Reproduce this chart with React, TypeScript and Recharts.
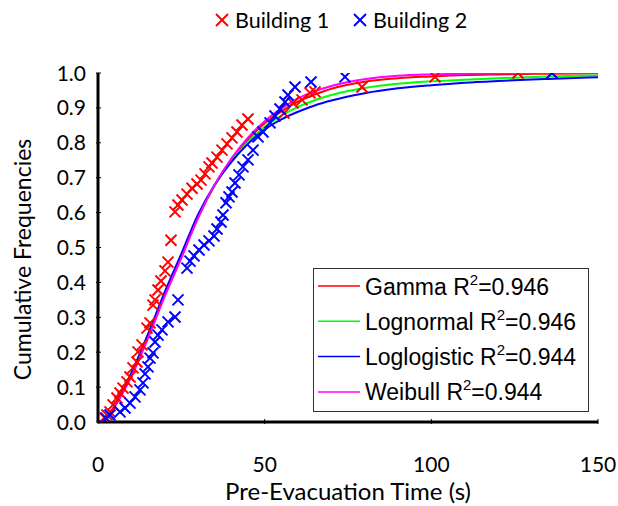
import React from 'react';
import { ComposedChart, Line, Scatter, XAxis, YAxis, Legend } from 'recharts';

// Building 1 observations (pre-evacuation time s, cumulative frequency)
const b1Time = [2.1, 2.7, 3.6, 4.5, 5.7, 6.6, 7.5, 8.7, 9.6, 10.5, 11.7, 12.0, 13.2, 14.7, 15.6, 16.5, 17.1, 18.0, 18.9, 20.1, 21.0, 21.9, 23.1, 24.0, 25.2, 26.7, 28.2, 29.7, 30.9, 32.1, 33.3, 34.2, 35.7, 37.2, 38.7, 40.2, 41.7, 43.2, 45.0, 55.8, 58.5, 61.2, 63.6, 65.1, 79.2, 101.1, 126.0];
const b1Freq = [0.011, 0.02, 0.029, 0.049, 0.069, 0.083, 0.097, 0.115, 0.129, 0.155, 0.172, 0.201, 0.221, 0.269, 0.284, 0.335, 0.35, 0.378, 0.404, 0.433, 0.458, 0.521, 0.602, 0.622, 0.636, 0.653, 0.67, 0.682, 0.693, 0.711, 0.731, 0.742, 0.759, 0.779, 0.797, 0.814, 0.831, 0.851, 0.868, 0.885, 0.914, 0.923, 0.943, 0.946, 0.96, 0.989, 1.0];

// Building 2 observations
const b2Time = [2.4, 3.6, 6.6, 8.1, 9.6, 11.1, 12.6, 13.5, 14.1, 15.0, 15.6, 16.5, 17.1, 18.0, 19.2, 21.0, 23.1, 24.0, 26.7, 27.6, 28.8, 30.3, 31.8, 33.3, 34.8, 35.7, 36.9, 37.5, 38.4, 39.3, 40.2, 41.1, 42.3, 43.5, 45.0, 46.5, 48.0, 49.5, 51.6, 53.1, 54.6, 56.1, 57.0, 59.1, 63.9, 74.1, 136.2];
const b2Freq = [0.011, 0.02, 0.029, 0.04, 0.054, 0.072, 0.092, 0.112, 0.138, 0.158, 0.183, 0.198, 0.229, 0.249, 0.264, 0.287, 0.301, 0.35, 0.441, 0.461, 0.476, 0.493, 0.507, 0.519, 0.533, 0.553, 0.573, 0.593, 0.628, 0.645, 0.659, 0.685, 0.708, 0.731, 0.751, 0.779, 0.817, 0.831, 0.857, 0.877, 0.897, 0.917, 0.937, 0.96, 0.974, 0.989, 1.0];

// Fitted curves
const fitTime = [0, 2, 5, 10, 15, 20, 25, 30, 35, 40, 45, 50, 55, 60, 65, 70, 80, 90, 100, 110, 120, 135, 150];
const gammaFit = [0, 0.008, 0.045, 0.135, 0.245, 0.362, 0.472, 0.585, 0.678, 0.752, 0.81, 0.856, 0.89, 0.918, 0.938, 0.955, 0.975, 0.985, 0.99, 0.994, 0.996, 0.998, 0.999];
const lognormalFit = [0, 0.005, 0.045, 0.14, 0.25, 0.368, 0.478, 0.59, 0.678, 0.748, 0.802, 0.846, 0.878, 0.903, 0.922, 0.937, 0.957, 0.969, 0.976, 0.981, 0.985, 0.99, 0.993];
const loglogisticFit = [0, 0.005, 0.045, 0.14, 0.252, 0.372, 0.482, 0.594, 0.68, 0.745, 0.797, 0.838, 0.867, 0.889, 0.907, 0.921, 0.942, 0.956, 0.965, 0.972, 0.977, 0.983, 0.988];
const weibullFit = [0, 0.01, 0.045, 0.13, 0.24, 0.36, 0.47, 0.585, 0.68, 0.755, 0.815, 0.862, 0.898, 0.927, 0.948, 0.963, 0.982, 0.992, 0.996, 0.998, 0.999, 1.0, 1.0];

const seriesNames = ['Building 1', 'Building 2'];
const fitNames = ['Gamma', 'Lognormal', 'Loglogistic', 'Weibull'];
const fitR2 = ['0.946', '0.946', '0.944', '0.944'];
const xTicks = [0, 50, 100, 150];
const yTicks = [0, 0.1, 0.2, 0.3, 0.4, 0.5, 0.6, 0.7, 0.8, 0.9, 1.0];
const xTitle = 'Pre-Evacuation Time (s)';
const yTitle = 'Cumulative Frequencies';

const RED = '#FF0000';
const BLUE = '#0000FF';
const GREEN = '#00FF00';
const MAGENTA = '#FF00FF';
const fitColors = [RED, GREEN, BLUE, MAGENTA];
const FONT = 'Lato, "Open Sans", sans-serif';

const b1 = b1Time.map((x, i) => ({ x, y: b1Freq[i] }));
const b2 = b2Time.map((x, i) => ({ x, y: b2Freq[i] }));
const mk = (arr: number[]) => fitTime.map((x, i) => ({ x, y: arr[i] }));
const fits = [mk(gammaFit), mk(lognormalFit), mk(loglogisticFit), mk(weibullFit)];

const Cross = (color: string) => (props: any) => {
  const { cx, cy } = props;
  const s = 5.5;
  return (
    <g>
      <line x1={cx - s} y1={cy - s} x2={cx + s} y2={cy + s} stroke={color} strokeWidth={2} />
      <line x1={cx - s} y1={cy + s} x2={cx + s} y2={cy - s} stroke={color} strokeWidth={2} />
    </g>
  );
};

const XTick = (props: any) => {
  const { x, y, payload } = props;
  return (
    <g>
      <line x1={x} x2={x} y1={y - 5} y2={y} stroke="#000" strokeWidth={1} />
      <text x={x} y={y + 48} textAnchor="middle" fontFamily={FONT} fontSize={21} fill="#000">
        {payload.value}
      </text>
    </g>
  );
};

const YTick = (props: any) => {
  const { x, y, payload } = props;
  return (
    <g>
      <line x1={x} x2={x + 5} y1={y} y2={y} stroke="#000" strokeWidth={1} />
      <text x={x - 10} y={y + 7.5} textAnchor="end" fontFamily={FONT} fontSize={21} fill="#000">
        {Number(payload.value).toFixed(1)}
      </text>
    </g>
  );
};

const LegendContent = () => (
  <svg width={618} height={506} style={{ position: 'absolute', left: 0, top: 0 }}>
    {[RED, BLUE].map((c, i) => {
      const x0 = i === 0 ? 222 : 360;
      return (
        <g key={i}>
          <line x1={x0 - 6} y1={14} x2={x0 + 6} y2={26} stroke={c} strokeWidth={2} />
          <line x1={x0 - 6} y1={26} x2={x0 + 6} y2={14} stroke={c} strokeWidth={2} />
          <text x={x0 + 13} y={27.5} fontFamily={FONT} fontSize={21.5} fill="#000">
            {seriesNames[i]}
          </text>
        </g>
      );
    })}
    <rect x={313.5} y={268.5} width={275} height={143} fill="#fff" stroke="#333" strokeWidth={1} />
    {fitNames.map((n, i) => {
      const yy = 286 + i * 35.3;
      return (
        <g key={n}>
          <line x1={318} x2={360} y1={yy} y2={yy} stroke={fitColors[i]} strokeWidth={1.5} />
          <text x={365} y={yy + 8.5} fontFamily='"Liberation Sans", Arial, sans-serif' fontSize={23} fill="#000">
            {n} R
            <tspan fontSize={15} dy={-10}>2</tspan>
            <tspan dy={10}>={fitR2[i]}</tspan>
          </text>
        </g>
      );
    })}
  </svg>
);

export default function App() {
  return (
    <div style={{ position: 'absolute', left: 0, top: 0, background: '#fff' }}>
      <ComposedChart width={618} height={506} margin={{ top: 73, right: 20, bottom: 0, left: 0 }}>
        <XAxis
          dataKey="x"
          type="number"
          domain={[0, 150]}
          ticks={xTicks}
          allowDataOverflow
          height={84}
          tickSize={0}
          tickLine={false}
          axisLine={{ stroke: '#000', strokeWidth: 3 }}
          tick={<XTick />}
          label={{ value: xTitle, position: 'insideBottom', offset: 6, fontFamily: FONT, fontSize: 24, fill: '#000' }}
        />
        <YAxis
          type="number"
          dataKey="y"
          domain={[0, 1]}
          ticks={yTicks}
          allowDataOverflow
          width={98}
          tickSize={0}
          tickLine={false}
          axisLine={{ stroke: '#000', strokeWidth: 3 }}
          tick={<YTick />}
          label={{
            content: (p: any) => {
              const vb = p.viewBox || { x: 0, y: 73, width: 98, height: 349 };
              const cy = vb.y + vb.height / 2 + 12;
              return (
                <text x={22} y={cy} transform={`rotate(-90 22 ${cy})`} textAnchor="middle" dominantBaseline="central" fontFamily={FONT} fontSize={23} fill="#000">
                  {yTitle}
                </text>
              );
            },
          }}
        />
        {fits.map((d, i) => (
          <Line
            key={fitNames[i]}
            data={d}
            dataKey="y"
            type="monotone"
            stroke={fitColors[i]}
            strokeWidth={2}
            dot={false}
            isAnimationActive={false}
            legendType="none"
          />
        ))}
        <Scatter data={b1} dataKey="y" shape={Cross(RED)} isAnimationActive={false} legendType="none" />
        <Scatter data={b2} dataKey="y" shape={Cross(BLUE)} isAnimationActive={false} legendType="none" />
        <Legend
          layout="horizontal"
          verticalAlign="middle"
          align="center"
          content={<LegendContent />}
          wrapperStyle={{ position: 'absolute', left: 0, top: 0, width: 618, height: 506, pointerEvents: 'none' }}
        />
      </ComposedChart>
    </div>
  );
}
